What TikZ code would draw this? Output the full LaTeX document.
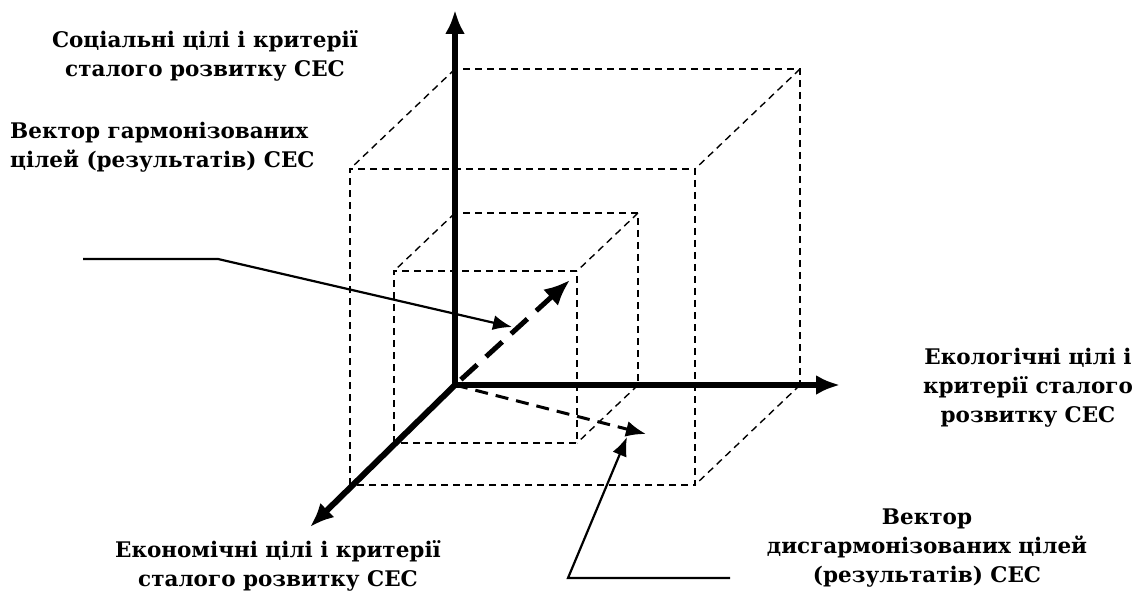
\documentclass[tikz,border=0pt]{standalone}
\usepackage{fontspec}
\setmainfont{DejaVu Serif}
\usetikzlibrary{arrows.meta}
\tikzstyle{axisline}=[line width=6pt,-{Latex[length=24pt,width=20pt]}]
\tikzstyle{cubeline}=[line width=1.4pt,dash pattern=on 7pt off 5pt]
\tikzstyle{txt}=[font=\fontsize{21.5}{29}\selectfont\bfseries,align=center,inner sep=0pt]
\tikzstyle{callout}=[line width=2.2pt,-{Latex[length=19pt,width=15pt]}]
\begin{document}
\begin{tikzpicture}[x=1pt,y=-1pt]
\useasboundingbox (0,0) rectangle (1141,596);
%\draw[help lines] (0,0) grid[step=50pt] (1141,596);
\coordinate (O) at (455,385);
% the two cubes
\foreach \w/\h/\dx/\dy in {345/316/105/100,183/172/61/58}{
\draw[cubeline] (455,385) rectangle (455+\w,385-\h);
\draw[cubeline] (455-\dx,385+\dy) rectangle (455+\w-\dx,385-\h+\dy);
\draw[cubeline] (455,385-\h) -- ++(-\dx,\dy) (455+\w,385-\h) -- ++(-\dx,\dy) (455+\w,385) -- ++(-\dx,\dy);
}
% axes
\coordinate (ytip) at (455,10);
\coordinate (xtip) at (840,385);
\coordinate (ztip) at (310,527);
\draw[axisline] (O) -- (ytip);
\draw[axisline] (O) -- (xtip);
\draw[axisline] (O) -- (ztip);
% vectors
\coordinate (harm) at (570,280);
\coordinate (disharm) at (646,434);
\draw[line width=5pt,dash pattern=on 22pt off 12pt,dash phase=26pt,-{Latex[length=26pt,width=22pt]}] (O) -- (harm);
\draw[line width=3pt,dash pattern=on 13pt off 8pt,-{Latex[length=20pt,width=16pt]}] (O) -- (disharm);
% leader lines
\coordinate (lead1) at (83,259);
\coordinate (knee1) at (218,259);
\coordinate (tip1) at (512,327);
\draw[callout] (lead1) -- (knee1) -- (tip1);
\coordinate (lead2) at (730,578);
\coordinate (knee2) at (568,578);
\coordinate (tip2) at (627,437);
\draw[callout] (lead2) -- (knee2) -- (tip2);
% texts
\node[txt] (social) at (205,56) {Соціальні цілі і критерії\\сталого розвитку СЕС};
\node[txt,align=left,anchor=west] (harmtext) at (10,147) {Вектор гармонізованих\\цілей (результатів) СЕС};
\node[txt] (ecol) at (1028,388) {Екологічні цілі і\\критерії сталого\\розвитку СЕС};
\node[txt] (econ) at (278,566) {Економічні цілі і критерії\\сталого розвитку СЕС};
\node[txt] (disharmtext) at (927,548) {Вектор\\дисгармонізованих цілей\\(результатів) СЕС};
\end{tikzpicture}
\end{document}
